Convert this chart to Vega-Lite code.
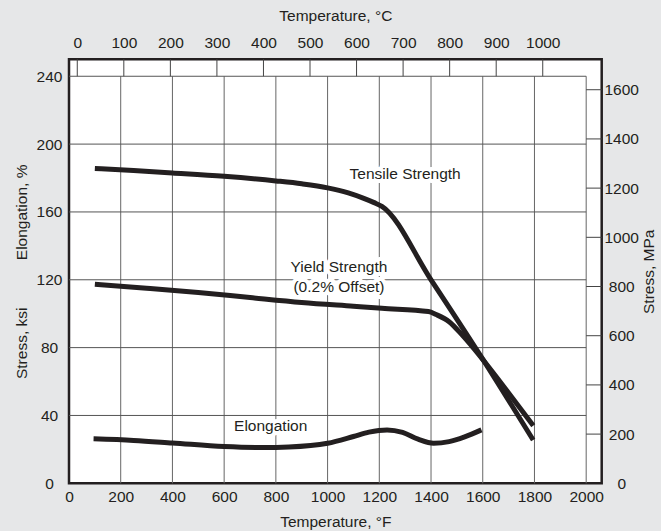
{
  "$schema": "https://vega.github.io/schema/vega-lite/v6.json",
  "width": 532.7,
  "height": 424,
  "autosize": {"type": "none"},
  "padding": {"left": 69, "top": 59.3, "right": 59.3, "bottom": 47.7},
  "background": "#e6e7e8",
  "config": {
    "view": {"fill": "white", "stroke": "#231f20", "strokeWidth": 2.5},
    "font": "Liberation Sans",
    "axis": {
      "labelFont": "Liberation Sans", "labelFontSize": 15.5, "labelColor": "#231f20",
      "titleFont": "Liberation Sans", "titleFontSize": 15.5, "titleFontWeight": "normal", "titleColor": "#231f20",
      "ticks": false, "tickSize": 0, "domain": false, "grid": false, "labelOverlap": false, "labelFlush": false, "format": "d"
    },
    "text": {"font": "Liberation Sans", "fontSize": 15.5}
  },
  "resolve": {"scale": {"x": "independent", "y": "independent"}},
  "datasets": {
    "labels": [
      {"label": "Tensile Strength", "F": 1300, "ksi": 182.2},
      {"label": "Yield Strength\n(0.2% Offset)", "F": 1044, "ksi": 127.7},
      {"label": "Elongation", "F": 780, "ksi": 33.5}
    ]
  },
  "layer": [
    {
      "data": {"values": [{"F": 200}, {"F": 400}, {"F": 600}, {"F": 800}, {"F": 1000}, {"F": 1200}, {"F": 1400}, {"F": 1600}, {"F": 1800}, {"F": 2000}]},
      "mark": {"type": "rule", "stroke": "#666666", "strokeWidth": 1},
      "encoding": {
        "x": {"field": "F", "type": "quantitative", "scale": {"domain": [0, 2060], "nice": false, "zero": false}, "axis": null},
        "y": {"datum": 0, "type": "quantitative", "scale": {"domain": [0, 250], "nice": false}, "axis": null},
        "y2": {"datum": 240}
      }
    },
    {
      "data": {"values": [{"ksi": 40}, {"ksi": 80}, {"ksi": 120}, {"ksi": 160}, {"ksi": 200}, {"ksi": 240}]},
      "mark": {"type": "rule", "stroke": "#555555", "strokeWidth": 1},
      "encoding": {
        "y": {"field": "ksi", "type": "quantitative", "scale": {"domain": [0, 250], "nice": false}, "axis": null},
        "x": {"datum": 0, "type": "quantitative", "scale": {"domain": [0, 2060], "nice": false, "zero": false}, "axis": null},
        "x2": {"datum": 2000}
      }
    },
    {
      "data": {"name": "labels"},
      "mark": {"type": "text", "lineBreak": "\n", "lineHeight": 20, "fill": "white", "stroke": "white", "strokeWidth": 8, "strokeJoin": "round", "align": "center", "baseline": "middle"},
      "encoding": {
        "text": {"field": "label", "type": "nominal"},
        "x": {"field": "F", "type": "quantitative", "scale": {"domain": [0, 2060], "nice": false, "zero": false}, "axis": null},
        "y": {"field": "ksi", "type": "quantitative", "scale": {"domain": [0, 250], "nice": false}, "axis": null}
      }
    },
    {
      "data": {"name": "labels"},
      "mark": {"type": "text", "lineBreak": "\n", "lineHeight": 20, "fill": "#231f20", "align": "center", "baseline": "middle"},
      "encoding": {
        "text": {"field": "label", "type": "nominal"},
        "x": {"field": "F", "type": "quantitative", "scale": {"domain": [0, 2060], "nice": false, "zero": false}, "axis": null},
        "y": {"field": "ksi", "type": "quantitative", "scale": {"domain": [0, 250], "nice": false}, "axis": null}
      }
    },
    {
      "data": {"values": [
        {"series": "Tensile Strength", "F": 100, "ksi": 185.6},
        {"series": "Tensile Strength", "F": 250, "ksi": 184.4},
        {"series": "Tensile Strength", "F": 400, "ksi": 183},
        {"series": "Tensile Strength", "F": 600, "ksi": 181},
        {"series": "Tensile Strength", "F": 800, "ksi": 178.3},
        {"series": "Tensile Strength", "F": 900, "ksi": 176.6},
        {"series": "Tensile Strength", "F": 1000, "ksi": 174.2},
        {"series": "Tensile Strength", "F": 1080, "ksi": 171.2},
        {"series": "Tensile Strength", "F": 1140, "ksi": 168},
        {"series": "Tensile Strength", "F": 1180, "ksi": 165.5},
        {"series": "Tensile Strength", "F": 1210, "ksi": 163.3},
        {"series": "Tensile Strength", "F": 1400, "ksi": 120},
        {"series": "Tensile Strength", "F": 1600, "ksi": 73.2},
        {"series": "Tensile Strength", "F": 1795, "ksi": 25.5},
        {"series": "Yield Strength", "F": 100, "ksi": 117.3},
        {"series": "Yield Strength", "F": 300, "ksi": 115},
        {"series": "Yield Strength", "F": 500, "ksi": 112.5},
        {"series": "Yield Strength", "F": 700, "ksi": 109.5},
        {"series": "Yield Strength", "F": 900, "ksi": 106.6},
        {"series": "Yield Strength", "F": 1100, "ksi": 104.4},
        {"series": "Yield Strength", "F": 1210, "ksi": 103.2},
        {"series": "Yield Strength", "F": 1390, "ksi": 101.3},
        {"series": "Yield Strength", "F": 1420, "ksi": 99.5},
        {"series": "Yield Strength", "F": 1470, "ksi": 95.3},
        {"series": "Yield Strength", "F": 1520, "ksi": 87.5},
        {"series": "Yield Strength", "F": 1600, "ksi": 73},
        {"series": "Yield Strength", "F": 1700, "ksi": 53.3},
        {"series": "Yield Strength", "F": 1795, "ksi": 34},
        {"series": "Elongation", "F": 95, "ksi": 26.2},
        {"series": "Elongation", "F": 250, "ksi": 25.3},
        {"series": "Elongation", "F": 400, "ksi": 23.8},
        {"series": "Elongation", "F": 600, "ksi": 21.7},
        {"series": "Elongation", "F": 750, "ksi": 21.1},
        {"series": "Elongation", "F": 850, "ksi": 21.4},
        {"series": "Elongation", "F": 1000, "ksi": 23.6},
        {"series": "Elongation", "F": 1100, "ksi": 27.6},
        {"series": "Elongation", "F": 1160, "ksi": 30.2},
        {"series": "Elongation", "F": 1230, "ksi": 31.5},
        {"series": "Elongation", "F": 1290, "ksi": 30},
        {"series": "Elongation", "F": 1350, "ksi": 26},
        {"series": "Elongation", "F": 1410, "ksi": 23.6},
        {"series": "Elongation", "F": 1470, "ksi": 24.6},
        {"series": "Elongation", "F": 1530, "ksi": 27.4},
        {"series": "Elongation", "F": 1595, "ksi": 31.5}
      ]},
      "mark": {"type": "line", "stroke": "#231f20", "strokeWidth": 5, "interpolate": "monotone"},
      "encoding": {
        "detail": {"field": "series", "type": "nominal"},
        "x": {"field": "F", "type": "quantitative", "scale": {"domain": [0, 2060], "nice": false, "zero": false},
              "axis": {"orient": "bottom", "values": [0, 200, 400, 600, 800, 1000, 1200, 1400, 1600, 1800, 2000],
                       "title": "Temperature, °F", "labelBaseline": "middle", "labelPadding": 13.4,
                       "titleBaseline": "middle", "titleY": 37.7}},
        "y": {"field": "ksi", "type": "quantitative", "scale": {"domain": [0, 250], "nice": false},
              "axis": {"orient": "left", "values": [0, 40, 80, 120, 160, 200, 240],
                       "title": "Stress, ksi\u00a0\u00a0\u00a0\u00a0\u00a0\u00a0\u00a0\u00a0\u00a0\u00a0\u00a0Elongation, %",
                       "labelAlign": "center", "labelBaseline": "middle", "labelPadding": 20,
                       "titleBaseline": "middle", "titleX": -48, "titleAngle": 270}}
      }
    },
    {
      "data": {"values": [{"C": 0}, {"C": 100}, {"C": 200}, {"C": 300}, {"C": 400}, {"C": 500}, {"C": 600}, {"C": 700}, {"C": 800}, {"C": 900}, {"C": 1000}]},
      "mark": {"type": "rule", "stroke": "#444444", "strokeWidth": 1},
      "encoding": {
        "x": {"field": "C", "type": "quantitative", "scale": {"domain": [-17.78, 1126.67], "nice": false, "zero": false},
              "axis": {"orient": "top", "values": [0, 100, 200, 300, 400, 500, 600, 700, 800, 900, 1000],
                       "title": "Temperature, °C", "labelBaseline": "middle", "labelPadding": 16.8,
                       "titleBaseline": "middle", "titleY": -44.3}},
        "y": {"datum": 240, "type": "quantitative", "scale": {"domain": [0, 250], "nice": false}, "axis": null},
        "y2": {"datum": 250}
      }
    },
    {
      "data": {"values": [{"MPa": 200}, {"MPa": 400}, {"MPa": 600}, {"MPa": 800}, {"MPa": 1000}, {"MPa": 1200}, {"MPa": 1400}, {"MPa": 1600}]},
      "mark": {"type": "rule", "stroke": "#444444", "strokeWidth": 1},
      "encoding": {
        "y": {"field": "MPa", "type": "quantitative", "scale": {"domain": [0, 1723.7], "nice": false},
              "axis": {"orient": "right", "values": [0, 200, 400, 600, 800, 1000, 1200, 1400, 1600],
                       "title": "Stress, MPa", "labelAlign": "center", "labelBaseline": "middle", "labelPadding": 19.5,
                       "titleBaseline": "middle", "titleX": 46.3, "titleAngle": 270}},
        "x": {"datum": 2000, "type": "quantitative", "scale": {"domain": [0, 2060], "nice": false, "zero": false}, "axis": null},
        "x2": {"datum": 2060}
      }
    }
  ]
}
